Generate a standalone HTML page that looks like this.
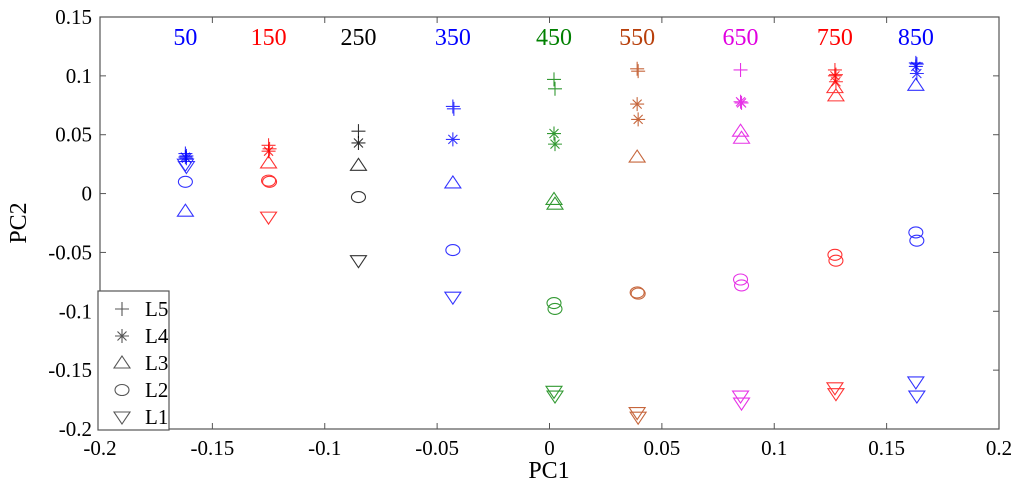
<!DOCTYPE html>
<html><head><meta charset="utf-8"><style>
body{margin:0;background:#fff}
svg{display:block}
text{font-family:"Liberation Serif","DejaVu Serif",serif}
</style></head><body>
<svg id="chart" width="1024" height="493"></svg>
<script>
const groups=["50","150","250","350","450","550","650","750","850"];
const groupColors=["#0000ff","#ff0000","#000000","#0000ff","#008000","#b8400c","#e000e0","#ff0000","#0000ff"];
const pc1=[-0.162,-0.125,-0.085,-0.043,0.002,0.039,0.085,0.127,0.163];
const L5a=[0.034,0.041,0.053,0.074,0.097,0.106,0.105,0.105,0.111];
const L5b=[0.032,0.038,0.053,0.072,0.089,0.104,0.105,0.101,0.110];
const L4a=[0.031,0.036,0.043,0.046,0.051,0.076,0.078,0.100,0.108];
const L4b=[0.030,0.036,0.043,0.046,0.042,0.063,0.077,0.095,0.102];
const L3a=[-0.015,0.026,0.024,0.009,-0.005,0.031,0.053,0.090,0.092];
const L3b=[-0.015,0.026,0.024,0.009,-0.009,0.031,0.047,0.083,0.092];
const L2a=[0.010,0.011,-0.003,-0.048,-0.093,-0.084,-0.073,-0.052,-0.033];
const L2b=[0.010,0.010,-0.003,-0.048,-0.098,-0.085,-0.078,-0.057,-0.040];
const L1a=[0.025,-0.020,-0.057,-0.088,-0.168,-0.186,-0.172,-0.165,-0.160];
const L1b=[0.023,-0.020,-0.057,-0.088,-0.172,-0.190,-0.178,-0.170,-0.172];
const xTicks=[-0.2,-0.15,-0.1,-0.05,0,0.05,0.1,0.15,0.2];
const yTicks=[0.15,0.1,0.05,0,-0.05,-0.1,-0.15,-0.2];
const legendLabels=["L5","L4","L3","L2","L1"];

const NS="http://www.w3.org/2000/svg";
const svg=document.getElementById('chart');
const FF='"Liberation Serif", "DejaVu Serif", serif';
const L=100,R=999,T=17,B=429;
const X=v=>L+(v+0.2)/0.4*(R-L);
const Y=v=>T+(0.15-v)/0.35*(B-T);
function mk(tag,attrs,parent){const e=document.createElementNS(NS,tag);for(const k in attrs)e.setAttribute(k,attrs[k]);(parent||svg).appendChild(e);return e;}
function txt(s,attrs){attrs['font-family']=FF;const e=mk('text',attrs);e.textContent=s;return e;}

const frame=mk('rect',{x:L,y:T,width:R-L,height:B-T,fill:'none',stroke:'#555','stroke-width':1.2});



xTicks.forEach(t=>{
  const x=X(t);
  mk('line',{x1:x,x2:x,y1:B,y2:B-6,stroke:'#555'});
  mk('line',{x1:x,x2:x,y1:T,y2:T+6,stroke:'#555'});
  const lb=txt(String(t),{x:x,y:B+26,'text-anchor':'middle','font-size':21,fill:'#000'});
  
  
});
yTicks.forEach(t=>{
  const y=Y(t);
  mk('line',{x1:L,x2:L+6,y1:y,y2:y,stroke:'#555'});
  mk('line',{x1:R,x2:R-6,y1:y,y2:y,stroke:'#555'});
  const lb=txt(String(t),{x:L-8,y:y+7,'text-anchor':'end','font-size':21,fill:'#000'});
  
  
});
const xt=txt('PC1',{x:549,y:478,'text-anchor':'middle','font-size':24});


const yt=txt('PC2',{x:0,y:0,'text-anchor':'middle','font-size':24,transform:'translate(26,223) rotate(-90)'});



groups.forEach((g,i)=>{
  const t=txt(g,{x:X(pc1[i]),y:45,'text-anchor':'middle','font-size':24,fill:groupColors[i]});
  
  
});

function marker(type,x,y,c,parent){
  const s=7,a={fill:'none',stroke:c,'stroke-width':1.1};
  let e;
  if(type==='plus'){e=mk('path',Object.assign({d:`M${x-s} ${y}H${x+s}M${x} ${y-s}V${y+s}`},a),parent);}
  else if(type==='star'){e=mk('path',Object.assign({d:`M${x-s} ${y}H${x+s}M${x} ${y-s}V${y+s}M${x-4.5} ${y-4.5}L${x+4.5} ${y+4.5}M${x-4.5} ${y+4.5}L${x+4.5} ${y-4.5}`},a),parent);}
  else if(type==='up'){e=mk('path',Object.assign({d:`M${x} ${y-7}L${x+8} ${y+5}L${x-8} ${y+5}Z`},a),parent);}
  else if(type==='down'){e=mk('path',Object.assign({d:`M${x} ${y+7}L${x+8} ${y-5}L${x-8} ${y-5}Z`},a),parent);}
  else {e=mk('ellipse',Object.assign({cx:x,cy:y,rx:7,ry:5.5},a),parent);}
  return e;
}
const series=[["L5","plus",L5a,L5b],["L4","star",L4a,L4b],["L3","up",L3a,L3b],["L2","circle",L2a,L2b],["L1","down",L1a,L1b]];
series.forEach(([name,type,a,b])=>{
  const g=mk('g',{opacity:0.8});
  
  
  pc1.forEach((px,i)=>{
    const m1=marker(type,X(px),Y(a[i]),groupColors[i],g);
    
    
    if(b[i]!==a[i]){
      const m2=marker(type,X(px)+1,Y(b[i]),groupColors[i],g);
      
      
    }
  });
});

const lg=mk('g',{});


mk('rect',{x:98,y:291,width:71,height:139,fill:'#fff',stroke:'#555','stroke-width':1.2},lg);
const ltypes=["plus","star","up","circle","down"];
legendLabels.forEach((l,i)=>{
  const y=309+i*27;
  marker(ltypes[i],122,y,'#555',lg);
  const t=txt(l,{x:145,y:y+7,'font-size':21});
  lg.appendChild(t);
  
  
});
</script>
</body></html>
